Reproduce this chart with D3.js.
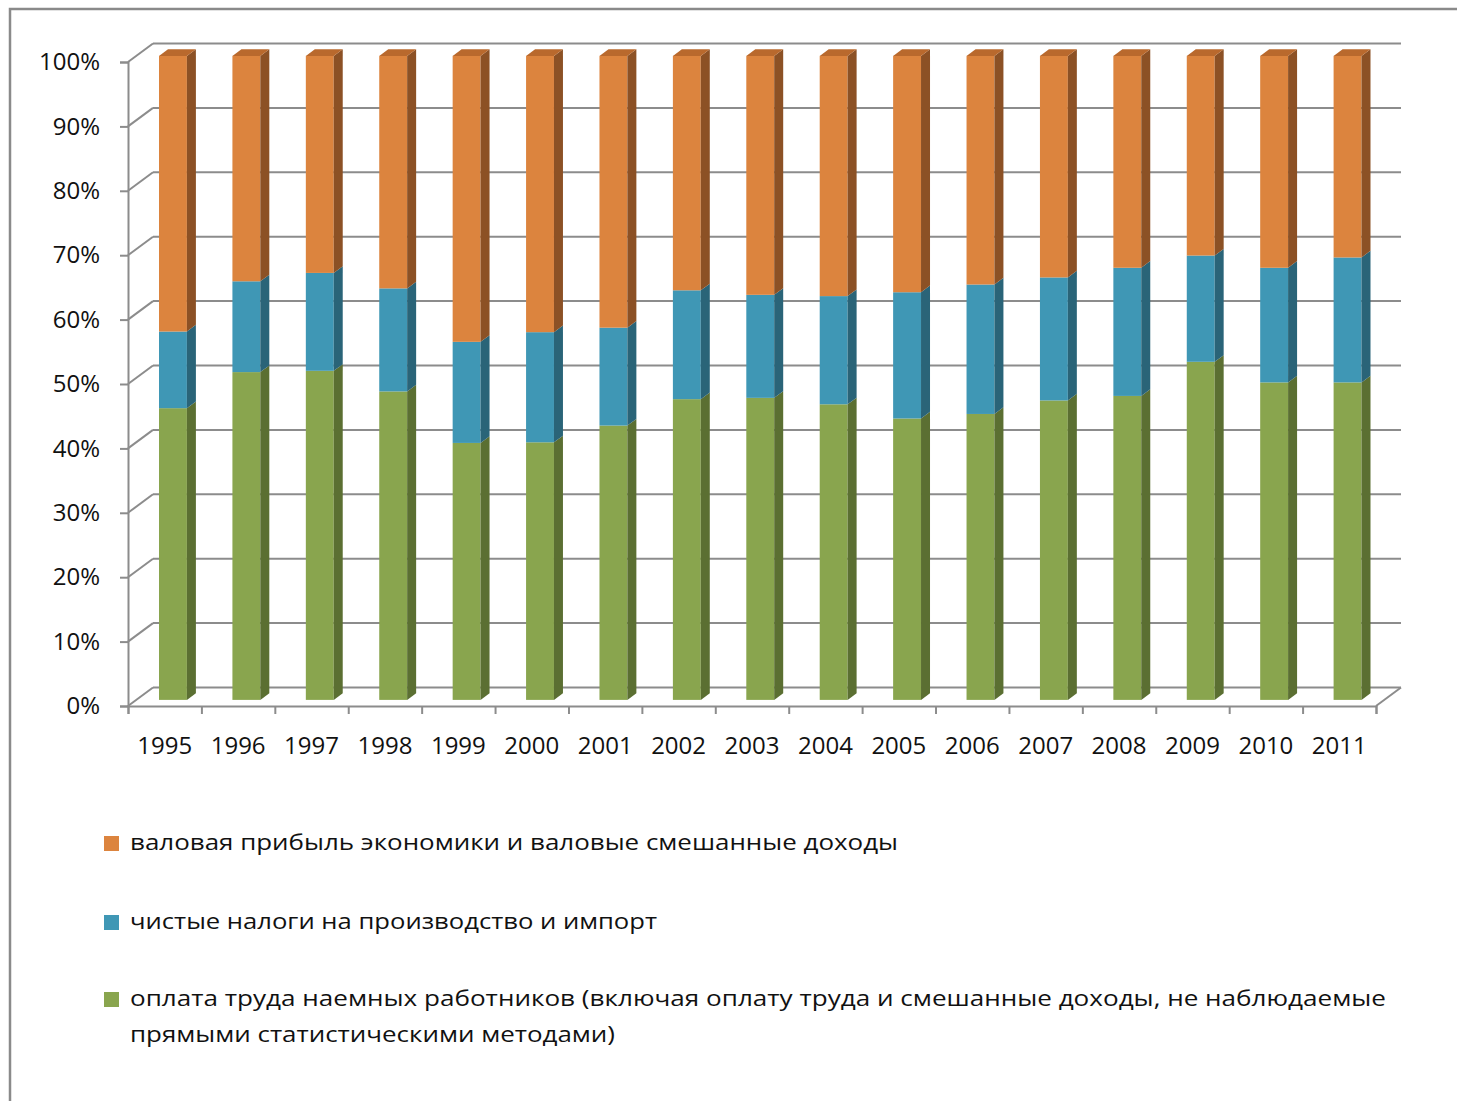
<!DOCTYPE html>
<html>
<head>
<meta charset="utf-8">
<script src="https://cdn.jsdelivr.net/npm/d3@7"></script>
<style>
  body { margin: 0; background: #fff; }
  svg { display: block; }
  text { font-family: "Open Sans", sans-serif; fill: #111; }
</style>
</head>
<body>
<div id="chart"></div>
<script>
// values, % of GDP
const years = ["1995", "1996", "1997", "1998", "1999", "2000", "2001", "2002", "2003",
  "2004", "2005", "2006", "2007", "2008", "2009", "2010", "2011"];
const labour = [45.3, 50.9, 51.1, 47.9, 39.9, 40.0, 42.6, 46.7, 46.9, 45.9, 43.7, 44.4, 46.5, 47.2, 52.5, 49.3, 49.3];
const taxes = [11.9, 14.1, 15.2, 16.0, 15.7, 17.1, 15.2, 16.9, 16.0, 16.8, 19.6, 20.1, 19.1, 19.9, 16.5, 17.8, 19.4];
const profit = [42.8, 35.0, 33.7, 36.1, 44.4, 42.9, 42.2, 36.4, 37.1, 37.3, 36.7, 35.5, 34.4, 32.9, 31.0, 32.9, 31.3];
const yTicks = [0, 10, 20, 30, 40, 50, 60, 70, 80, 90, 100];

const legendLines = [
  { key: "profit", lines: ["валовая прибыль экономики и валовые смешанные доходы"] },
  { key: "taxes", lines: ["чистые налоги на производство и импорт"] },
  { key: "labour", lines: ["оплата труда наемных работников (включая оплату труда и смешанные доходы, не наблюдаемые",
    "прямыми статистическими методами)"] },
];

const colors = {
  labour: { front: "#89a54e", side: "#5b6f32", top: "#728a40" },
  taxes: { front: "#3f97b5", side: "#2a6478", top: "#347f99" },
  profit: { front: "#dc843e", side: "#8c5125", top: "#b9692d" },
};

const W = 1457, H = 1101;
const depth = { x: 25, y: -18.5 };   // projection of the full floor depth
const z0 = 0.33, z1 = 0.69;          // bar front / back position in depth

const svg = d3.select("#chart").append("svg")
  .attr("width", W).attr("height", H)
  .attr("viewBox", `0 0 ${W} ${H}`);

// frame round the slide object
svg.append("rect")
  .attr("x", 10).attr("y", 9).attr("width", W + 20).attr("height", H + 20)
  .attr("fill", "none").attr("stroke", "#8a8a8a").attr("stroke-width", 2.5);

const table = years.map((y, i) => ({ year: y, labour: labour[i], taxes: taxes[i], profit: profit[i] }));
const keys = ["labour", "taxes", "profit"];
const series = d3.stack().keys(keys)(table);

const x = d3.scaleBand().domain(years).range([128, 1376]).paddingInner(0.62).paddingOuter(0.31);
const xEdge = d3.scaleLinear().domain([0, years.length]).range([128, 1376]);
const y = d3.scaleLinear().domain([0, 100]).range([706, 62]);

const gridColor = "#8c8c8c";
const walls = svg.append("g");

// back wall grid + side wall diagonals
yTicks.forEach((t) => {
  walls.append("line")
    .attr("x1", 128 + depth.x).attr("x2", 1376 + depth.x)
    .attr("y1", y(t) + depth.y).attr("y2", y(t) + depth.y)
    .attr("stroke", gridColor).attr("stroke-width", 2);
  walls.append("line")
    .attr("x1", 128).attr("x2", 128 + depth.x)
    .attr("y1", y(t)).attr("y2", y(t) + depth.y)
    .attr("stroke", gridColor).attr("stroke-width", 2);
});
// floor right edge
walls.append("line")
  .attr("x1", 1376).attr("x2", 1376 + depth.x)
  .attr("y1", y(0)).attr("y2", y(0) + depth.y)
  .attr("stroke", gridColor).attr("stroke-width", 2);

// bars
const bw = x.bandwidth();
const dx = (z1 - z0) * depth.x, dy = (z1 - z0) * depth.y;
const barsG = svg.append("g");
series.forEach((s) => {
  const c = colors[s.key];
  const g = barsG.append("g");
  s.forEach((d, i) => {
    const x0 = x(years[i]) + z0 * depth.x;
    const x1 = x0 + bw;
    const yb = y(d[0]) + z0 * depth.y;
    const yt = y(d[1]) + z0 * depth.y;
    g.append("rect")
      .attr("x", x0).attr("y", yt).attr("width", bw).attr("height", yb - yt)
      .attr("fill", c.front);
    g.append("path")
      .attr("d", `M${x1},${yb}L${x1 + dx},${yb + dy}L${x1 + dx},${yt + dy}L${x1},${yt}Z`)
      .attr("fill", c.side);
    if (s.key === "profit") {
      g.append("path")
        .attr("d", `M${x0},${yt}L${x1},${yt}L${x1 + dx},${yt + dy}L${x0 + dx},${yt + dy}Z`)
        .attr("fill", c.top);
    }
  });
});

// y axis on the front edge
const yAxis = svg.append("g")
  .attr("transform", "translate(128,0)")
  .call(d3.axisLeft(y).tickValues(yTicks).tickSize(8).tickPadding(20).tickFormat((d) => d + "%"));
yAxis.selectAll("text").style("font-size", "24px").attr("fill", "#111");

// x axis: boundary ticks + year labels
const xAxis = svg.append("g")
  .attr("transform", `translate(0,${y(0)})`)
  .call(d3.axisBottom(xEdge).tickValues(d3.range(years.length + 1)).tickSize(8).tickFormat(""));
svg.append("g")
  .attr("transform", `translate(0,${y(0)})`)
  .call(d3.axisBottom(x).tickSize(0).tickPadding(31))
  .call((g) => g.select(".domain").remove())
  .selectAll("text").style("font-size", "24px").attr("fill", "#111");

[yAxis, xAxis].forEach((a) => {
  a.select(".domain").attr("stroke", gridColor).attr("stroke-width", 2);
  a.selectAll(".tick line").attr("stroke", gridColor).attr("stroke-width", 2);
});

// legend
const legendY = [850, 929, 1006];
const legendW = [[768], [527], [1256, 485]];
const legend = svg.append("g");
legendLines.forEach((item, i) => {
  legend.append("rect")
    .attr("x", 104).attr("y", legendY[i] - 14).attr("width", 15).attr("height", 15)
    .attr("fill", colors[item.key].front);
  item.lines.forEach((line, j) => {
    legend.append("text")
      .attr("x", 130).attr("y", legendY[i] + j * 36)
      .attr("textLength", legendW[i][j])
      .attr("lengthAdjust", "spacingAndGlyphs")
      .style("font-size", "22px")
      .text(line);
  });
});
</script>
</body>
</html>
